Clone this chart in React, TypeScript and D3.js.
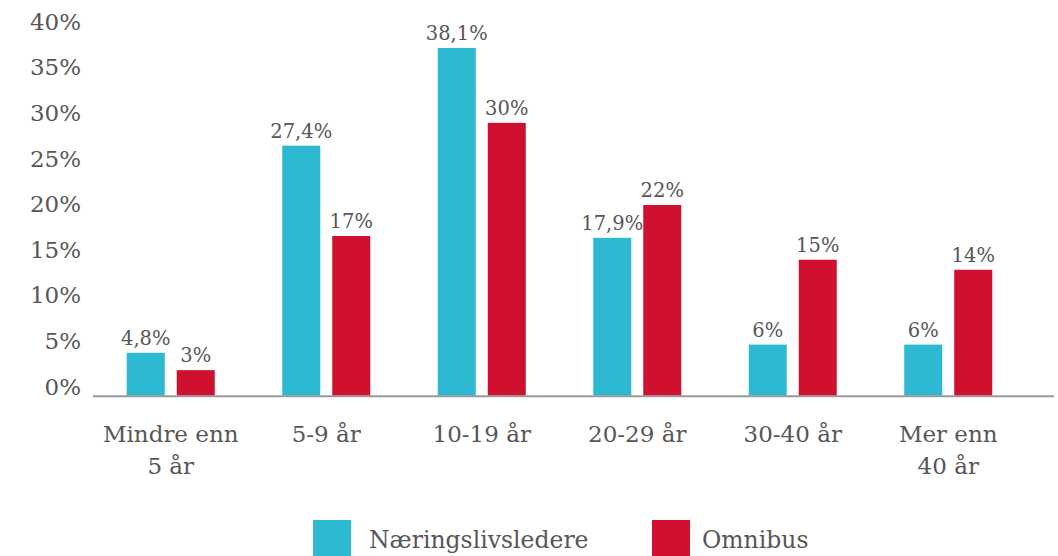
import { useEffect, useRef } from "react";
import * as d3 from "d3";

// categories, one array of lines per label
const categories = ["Mindre enn 5 år", "5-9 år", "10-19 år", "20-29 år", "30-40 år", "Mer enn 40 år"];
const categoryLines = [["Mindre enn", "5 år"], ["5-9 år"], ["10-19 år"], ["20-29 år"], ["30-40 år"], ["Mer enn", "40 år"]];

const seriesNames = ["Næringslivsledere", "Omnibus"];
const seriesColors = ["#2cb9d1", "#cf112f"];

// bar heights as drawn (percent)
const naeringsliv = [4.7, 27.4, 38.1, 17.3, 5.6, 5.6];
const omnibus = [2.8, 17.5, 29.9, 20.9, 14.9, 13.8];

// printed labels above bars
const naeringslivLabels = ["4,8%", "27,4%", "38,1%", "17,9%", "6%", "6%"];
const omnibusLabels = ["3%", "17%", "30%", "22%", "15%", "14%"];

const yTicks = [0, 5, 10, 15, 20, 25, 30, 35, 40];

const W = 1058;
const H = 556;
const FONT = "'DejaVu Serif', Georgia, serif";
const TEXT = "#575757";

export default function App() {
  const svgRef = useRef<SVGSVGElement | null>(null);

  useEffect(() => {
    if (!svgRef.current) return;
    const svg = d3.select(svgRef.current);
    svg.selectAll("*").remove();

    const x0 = d3.scaleBand<string>().domain(categories).range([93, 1026]);
    const x1 = d3.scaleBand<string>().domain(seriesNames).range([0, 88]).paddingInner(0.24);
    const y = d3.scaleLinear().domain([0, 40]).range([395.7, 30.7]);
    const off = (x0.bandwidth() - 88) / 2;

    // y tick labels
    svg.append("g")
      .selectAll("text")
      .data(yTicks)
      .enter()
      .append("text")
      .attr("x", 81)
      .attr("y", (d) => y(d) - 1)
      .attr("text-anchor", "end")
      .style("font", `23px ${FONT}`)
      .style("fill", TEXT)
      .text((d) => `${d}%`);

    const rows = categories.map((c, i) => ({
      c,
      vals: [naeringsliv[i], omnibus[i]],
      labels: [naeringslivLabels[i], omnibusLabels[i]],
    }));

    const group = svg.append("g")
      .selectAll("g")
      .data(rows)
      .enter()
      .append("g")
      .attr("transform", (d) => `translate(${x0(d.c)! + off},0)`);

    group.selectAll("rect")
      .data((d) => d.vals.map((v, j) => ({ v, j })))
      .enter()
      .append("rect")
      .attr("x", (d) => x1(seriesNames[d.j])!)
      .attr("y", (d) => y(d.v))
      .attr("width", x1.bandwidth())
      .attr("height", (d) => y(0) - y(d.v))
      .attr("fill", (d) => seriesColors[d.j]);

    group.selectAll("text")
      .data((d) => d.vals.map((v, j) => ({ v, j, t: d.labels[j] })))
      .enter()
      .append("text")
      .attr("x", (d) => x1(seriesNames[d.j])! + x1.bandwidth() / 2)
      .attr("y", (d) => y(d.v) - 8)
      .attr("text-anchor", "middle")
      .style("font", `19.5px ${FONT}`)
      .style("fill", TEXT)
      .text((d) => d.t);

    // baseline
    svg.append("line")
      .attr("x1", 93)
      .attr("x2", 1054)
      .attr("y1", y(0) + 0.5)
      .attr("y2", y(0) + 0.5)
      .attr("stroke", "#9a9a9a")
      .attr("stroke-width", 2);

    // category labels
    const cat = svg.append("g")
      .selectAll("text")
      .data(categories)
      .enter()
      .append("text")
      .attr("text-anchor", "middle")
      .style("font", `23px ${FONT}`)
      .style("fill", TEXT);
    cat.selectAll("tspan")
      .data((d, i) => categoryLines[i].map((t) => ({ t, c: d })))
      .enter()
      .append("tspan")
      .attr("x", (d) => x0(d.c)! + x0.bandwidth() / 2)
      .attr("y", (_d, k) => 442 + k * 32)
      .text((d) => d.t);

    // legend
    const legendX = [313, 652];
    const legendTextX = [56, 50];
    const lg = svg.append("g")
      .selectAll("g")
      .data(seriesNames)
      .enter()
      .append("g")
      .attr("transform", (_d, i) => `translate(${legendX[i]},520)`);
    lg.append("rect")
      .attr("width", 38)
      .attr("height", 38)
      .attr("fill", (_d, i) => seriesColors[i]);
    lg.append("text")
      .attr("x", (_d, i) => legendTextX[i])
      .attr("y", 28)
      .style("font", `23.5px ${FONT}`)
      .style("fill", TEXT)
      .text((d) => d);
  }, []);

  return (
    <svg
      ref={svgRef}
      width={W}
      height={H}
      style={{ position: "absolute", left: 0, top: 0, background: "#fff" }}
    />
  );
}
